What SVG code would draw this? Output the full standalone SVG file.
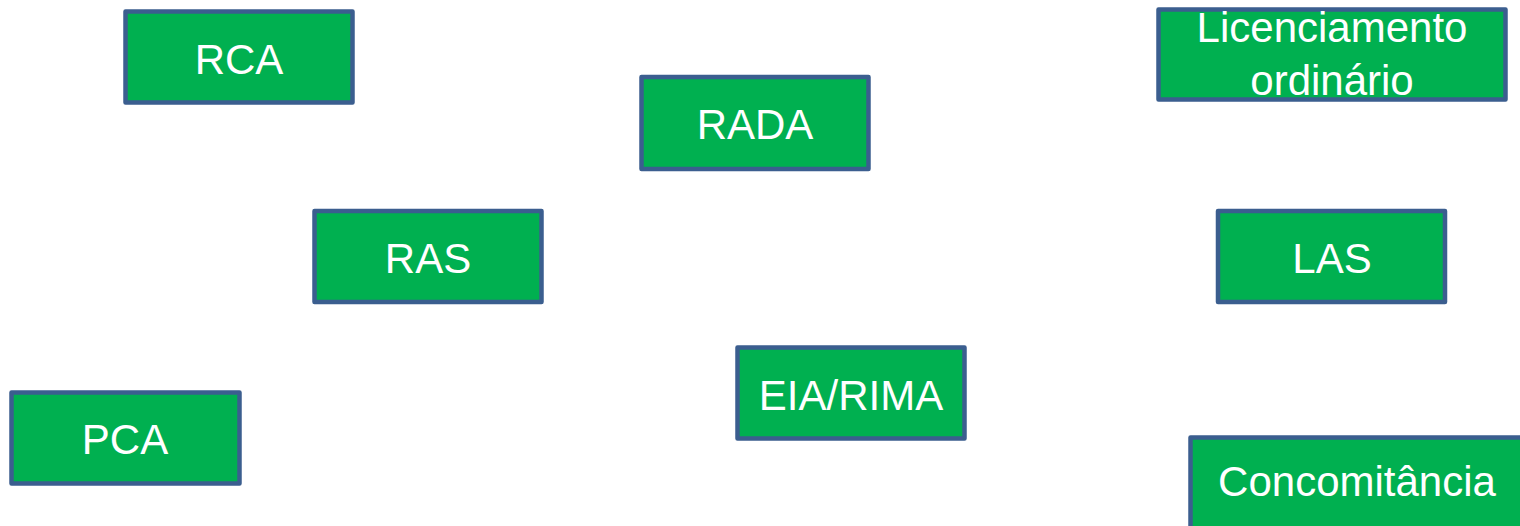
<svg xmlns="http://www.w3.org/2000/svg" width="1520" height="526" viewBox="0 0 1520 526">
  <style>
    .box { fill: #00B050; stroke: #3B5E8F; stroke-width: 4.5; stroke-linejoin: round; }
    .lbl { font-family: "Liberation Sans", Arial, sans-serif; font-size: 42px; fill: #FFFFFF; text-anchor: middle; }
  </style>
  <rect width="1520" height="526" fill="#FFFFFF"/>
  <g id="node-rca">
    <rect class="box" x="125.5" y="11.5" width="227" height="91"/>
    <text class="lbl" x="239" y="74">RCA</text>
  </g>
  <g id="node-rada">
    <rect class="box" x="641.5" y="77" width="227" height="92"/>
    <text class="lbl" x="755" y="139">RADA</text>
  </g>
  <g id="node-licenciamento">
    <rect class="box" x="1158.5" y="9.5" width="347" height="90"/>
    <text class="lbl" x="1332" y="42">Licenciamento</text>
    <text class="lbl" x="1332" y="95">ordinário</text>
  </g>
  <g id="node-ras">
    <rect class="box" x="314.5" y="211" width="227" height="91"/>
    <text class="lbl" x="428" y="273">RAS</text>
  </g>
  <g id="node-las">
    <rect class="box" x="1218" y="211" width="227" height="91"/>
    <text class="lbl" x="1332" y="273">LAS</text>
  </g>
  <g id="node-eia-rima">
    <rect class="box" x="737.5" y="347.5" width="227" height="91"/>
    <text class="lbl" x="851" y="410">EIA/RIMA</text>
  </g>
  <g id="node-pca">
    <rect class="box" x="11.5" y="392.5" width="228" height="91"/>
    <text class="lbl" x="125" y="454">PCA</text>
  </g>
  <g id="node-concomitancia">
    <rect class="box" x="1190.5" y="437.5" width="340" height="100"/>
    <text class="lbl" x="1357" y="496">Concomitância</text>
  </g>
  <g id="connectors"></g>
</svg>
